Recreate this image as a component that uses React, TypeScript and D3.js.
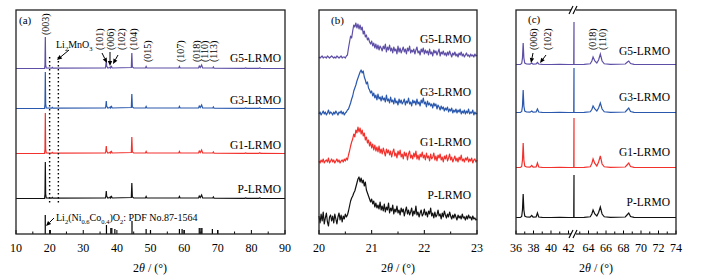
import React from "react";
import * as d3 from "d3";

// ---------- data ----------
const seriesNames = ["G5-LRMO", "G3-LRMO", "G1-LRMO", "P-LRMO"];
const seriesColors = ["#5e4ea6", "#2a58ad", "#f2312c", "#111111"];

// panel (a) wide-range patterns: [2θ, intensity]
const aG5: [number, number][] = [[10,0.5],[18.5,0.6],[18.62,4],[18.72,32],[18.82,4],[19,1],[20.6,0.8],[20.8,1.6],[21,0.8],[36.6,1],[36.72,4],[36.85,9],[36.96,3],[37.3,1],[37.9,1.5],[38.0,2],[38.1,1],[38.4,2.5],[38.6,1],[44.3,1.5],[44.45,16],[44.6,2],[45,1],[48.5,1],[48.7,2.5],[48.9,1],[58.4,1],[58.6,2.5],[58.8,1],[64.3,1],[64.5,3],[64.8,1.5],[65.2,4],[65.5,1],[68.5,1],[68.7,2],[68.9,0.8],[78,0.6],[78.3,1],[78.6,0.6],[82.2,0.6],[82.5,1],[82.8,0.6],[90,0.5]];
const aG3: [number, number][] = [[10,0.5],[18.5,0.6],[18.62,5],[18.72,37],[18.82,5],[19,1],[20.6,0.8],[20.8,1.6],[21,0.8],[36.6,1],[36.72,3],[36.85,8],[36.96,3],[37.3,1],[37.9,1.5],[38.0,2],[38.1,1],[38.4,2.5],[38.6,1],[44.3,1.5],[44.45,15],[44.6,2],[45,1],[48.5,1],[48.7,2.5],[48.9,1],[58.4,1],[58.6,2.5],[58.8,1],[64.3,1],[64.5,3],[64.8,1.5],[65.2,4],[65.5,1],[68.5,1],[68.7,2],[68.9,0.8],[78,0.6],[78.3,1],[78.6,0.6],[82.2,0.6],[82.5,1],[82.8,0.6],[90,0.5]];
const aG1: [number, number][] = [[10,0.5],[18.5,0.6],[18.62,5],[18.72,41],[18.82,5],[19,1],[20.6,0.8],[20.8,1.6],[21,0.8],[36.6,1],[36.72,3],[36.85,8],[36.96,3],[37.3,1],[37.9,1.5],[38.0,2],[38.1,1],[38.4,2.5],[38.6,1],[44.3,1.5],[44.45,17],[44.6,2],[45,1],[48.5,1],[48.7,2.5],[48.9,1],[58.4,1],[58.6,2.5],[58.8,1],[64.3,1],[64.5,3],[64.8,1.5],[65.2,4],[65.5,1],[68.5,1],[68.7,2],[68.9,0.8],[78,0.6],[78.3,1],[78.6,0.6],[82.2,0.6],[82.5,1.2],[82.8,0.6],[90,0.5]];
const aP: [number, number][] = [[10,0.5],[18.5,0.6],[18.62,5],[18.72,37],[18.82,5],[19,1],[20.6,0.8],[20.8,1.6],[21,0.8],[36.6,1],[36.72,3],[36.85,8],[36.96,3],[37.3,1],[37.9,1.5],[38.0,2],[38.1,1],[38.4,2.5],[38.6,1],[44.3,1.5],[44.45,16],[44.6,2],[45,1],[48.5,1],[48.7,2.5],[48.9,1],[58.4,1],[58.6,2.5],[58.8,1],[64.3,1],[64.5,3],[64.8,1.5],[65.2,4],[65.5,1],[68.5,1],[68.7,2],[68.9,0.8],[78,0.6],[78.3,1],[78.6,0.6],[82.2,0.6],[82.5,1],[82.8,0.6],[90,0.5]];
const aData = [aG5, aG3, aG1, aP];
const aOffsets = [165, 125, 80, 35];

// PDF No.87-1564 reference sticks: [2θ, height]
const pdfSticks: [number, number][] = [[18.7,19],[20.2,4],[36.9,9],[38.2,6],[38.5,6],[39.4,5],[44.5,13],[48.7,5],[50.0,4],[58.6,5],[59.4,5],[60.0,4],[64.5,6],[65.0,6],[65.3,6],[68.4,5],[70.0,4]];

// panel (b) zoomed region 20–23° (step 0.02°), intensity above baseline
const bG5 = [
  1,0,1,2,0,1,1,0,2,1, 0,1,2,1,0,1,0,2,1,0, 1,2,0,1,1,0,2,3,10,16,
  22,20,27,33,31,35,30,34,29,33, 28,31,24,27,21,23,18,20,16,14, 17,12,15,10,14,9,13,8,12,10,
  7,12,9,14,6,11,8,13,7,10, 5,11,7,9,4,12,6,10,5,8, 11,6,9,4,10,7,12,5,8,6,
  9,4,8,11,5,7,3,9,6,10, 4,8,5,7,3,9,4,6,2,8, 5,7,3,6,9,2,6,4,7,3,
  5,2,6,3,7,4,1,5,3,6, 2,4,1,5,3,6,2,4,1,3, 5,2,3,1,4,2,3,1,4,2,3];
const bG3 = [
  1,3,0,2,4,1,3,0,2,5, 1,3,2,0,3,1,4,2,0,3, 2,4,1,3,0,2,3,5,6,9,
  12,16,19,24,27,30,34,37,40,43, 45,42,44,38,35,31,33,27,25,22, 24,19,22,17,20,15,21,16,18,14,
  19,15,17,13,20,14,16,12,18,13, 15,11,17,12,14,10,16,12,15,11, 13,16,10,14,12,17,11,13,9,15,
  12,14,10,16,11,13,9,15,12,17, 11,13,8,14,10,12,9,11,7,12, 9,11,6,10,8,5,9,6,8,4,
  7,5,8,3,6,4,7,2,5,3, 6,2,5,3,6,1,4,2,5,1, 4,2,6,1,3,2,5,0,3,1,2];
const bG1 = [
  2,0,3,1,4,0,2,3,1,5, 0,2,4,1,3,0,2,4,1,3, 0,2,3,1,4,2,5,3,8,12,
  17,21,24,29,26,33,30,36,31,35, 29,33,27,30,23,26,20,23,17,21, 15,19,13,18,12,16,11,17,10,14,
  9,15,11,7,14,10,13,8,12,6, 11,14,7,10,5,12,8,13,6,9, 4,11,7,10,3,9,12,5,8,4,
  10,6,12,4,8,3,9,6,11,5, 8,3,10,5,7,2,9,4,6,10, 3,7,2,8,5,9,3,6,1,7,
  4,8,2,5,9,3,6,1,4,7, 2,5,1,6,3,8,2,4,1,5, 3,6,1,4,2,5,0,3,4,1,3];
const bP = [
  4,-3,6,-1,8,-4,2,7,-2,-6, 3,5,-1,4,-3,6,1,-4,3,7, 0,5,-2,4,1,6,3,5,9,14,
  19,22,24,27,29,33,37,41,43,38, 42,37,40,34,38,30,27,24,21,18, 21,16,19,13,17,12,15,11,18,10,
  14,9,16,8,13,10,17,7,12,9, 15,6,11,8,14,7,10,5,12,8, 11,4,9,13,6,10,5,8,12,4,
  9,6,14,5,8,3,7,10,4,6, 11,5,8,3,9,6,12,4,7,2, 8,3,5,10,4,6,1,7,3,9,
  5,2,6,3,8,4,1,5,2,6, 3,0,5,2,4,1,6,2,3,0, 4,1,5,2,3,0,4,1,2,0,1];
const bData = [bG5, bG3, bG1, bP];
const bOffsets = [176, 119, 71, 14];
const bAngles = d3.range(0, 151).map((i) => 20 + i * 0.02);

// panel (c) broken-axis view: [2θ, intensity]; the (104) line sits at the break
const cG5: [number, number][] = [[36,0.5],[36.5,0.6],[36.65,1.5],[36.74,7],[36.82,22],[36.9,7],[37.0,2],[37.2,1],[37.6,0.8],[37.8,2],[37.95,0.8],[38.3,1],[38.45,2.5],[38.6,1],[39,0.6],[40,0.5],[41,0.6],[42,0.5],[42.6,0.5],[42.63,43],[62.34,0.5],[63.5,0.6],[64.2,1.2],[64.38,4],[64.52,8],[64.72,4],[64.95,2],[65.15,5],[65.35,11],[65.55,4],[65.8,1.2],[66.5,0.6],[68.2,1],[68.45,3],[68.6,4],[68.8,1.5],[69.2,0.6],[74,0.5]];
const cG3: [number, number][] = [[36,0.5],[36.5,0.6],[36.65,1.5],[36.74,7],[36.82,23],[36.9,7],[37.0,2],[37.2,1],[37.6,0.8],[37.8,2],[37.95,0.8],[38.3,1],[38.45,4],[38.6,1],[39,0.6],[40,0.5],[41,0.6],[42,0.5],[42.6,0.5],[42.63,45],[62.34,0.5],[63.5,0.6],[64.2,1.2],[64.38,3.5],[64.52,7],[64.72,4],[64.95,2],[65.15,5],[65.35,10],[65.55,4],[65.8,1.2],[66.5,0.6],[68.2,1],[68.45,3.5],[68.6,5],[68.8,1.5],[69.2,0.6],[74,0.5]];
const cG1: [number, number][] = [[36,0.5],[36.5,0.6],[36.65,1.5],[36.74,8],[36.82,25],[36.9,8],[37.0,2],[37.2,1],[37.6,0.8],[37.8,2.5],[37.95,0.8],[38.3,1],[38.45,5],[38.6,1],[39,0.6],[40,0.5],[41,0.6],[42,0.5],[42.6,0.5],[42.63,50],[62.34,0.5],[63.5,0.6],[64.2,1.2],[64.38,4.5],[64.52,9],[64.72,4.5],[64.95,2],[65.15,6],[65.35,12],[65.55,4],[65.8,1.2],[66.5,0.6],[68.2,1],[68.45,3.5],[68.6,5],[68.8,1.5],[69.2,0.6],[74,0.5]];
const cP: [number, number][] = [[36,0.5],[36.5,0.6],[36.65,1.5],[36.74,8],[36.82,24],[36.9,8],[37.0,2],[37.2,1],[37.6,0.8],[37.8,2.5],[37.95,0.8],[38.3,1],[38.45,5],[38.6,1],[39,0.6],[40,0.5],[41,0.6],[42,0.5],[42.6,0.5],[42.63,43],[62.34,0.5],[63.5,0.6],[64.2,1.2],[64.38,4],[64.52,8],[64.72,4],[64.95,2],[65.15,5.5],[65.35,11],[65.55,4],[65.8,1.2],[66.5,0.6],[68.2,1],[68.45,3.5],[68.6,5],[68.8,1.5],[69.2,0.6],[74,0.5]];
const cData = [cG5, cG3, cG1, cP];
const cOffsets = [169, 121, 66, 16];

// tick labels
const aTicks = [10, 20, 30, 40, 50, 60, 70, 80, 90];
const bTicks = [20, 21, 22, 23];
const cTicksLeft = [36, 38, 40, 42];
const cTicksRight = [64, 66, 68, 70, 72, 74];

// peak labels
const aPeakLabels: [string, number, number][] = [["(003)",45,35],["(101)",99,50],["(006)",110,50],["(102)",121,50],["(104)",133,50],["(015)",147,62],["(107)",180,62],["(018)",196,62],["(110)",204,62],["(113)",213,62]];
const cPeakLabels: [string, number, number][] = [["(006)",533,50],["(102)",547,50],["(018)",592,50],["(110)",602,50]];

// ---------- layout ----------
const FONT = "'Liberation Serif', 'Times New Roman', serif";
const yS = d3.scaleLinear().domain([0, 224]).range([234, 10]);
const xA = d3.scaleLinear().domain([10, 90]).range([16, 285]);
const xB = d3.scaleLinear().domain([20, 23]).range([319, 477]);
const xC = d3.scaleLinear().domain([36, 42.63, 62.34, 74]).range([516, 574, 574, 676]);

function Title({ x }: { x: number }) {
  return (
    <text x={x} y={272} textAnchor="middle" fontSize={12} fontFamily={FONT}>
      2<tspan fontStyle="italic">θ</tspan> / (°)
    </text>
  );
}

function Arrow({ x1, y1, x2, y2 }: { x1: number; y1: number; x2: number; y2: number }) {
  const ang = Math.atan2(y2 - y1, x2 - x1);
  const L = 5, W = 2.2;
  const bx = x2 - L * Math.cos(ang), by = y2 - L * Math.sin(ang);
  const px = -Math.sin(ang) * W, py = Math.cos(ang) * W;
  return (
    <g>
      <line x1={x1} y1={y1} x2={bx} y2={by} stroke="#000" strokeWidth={1} />
      <path d={`M${x2},${y2}L${bx + px},${by + py}L${bx - px},${by - py}Z`} fill="#000" />
    </g>
  );
}

function RotLabel({ t, cx, by }: { t: string; cx: number; by: number }) {
  return (
    <text transform={`translate(${cx + 3.5},${by}) rotate(-90)`} fontSize={10} fontFamily={FONT}>
      {t}
    </text>
  );
}

export default function App() {
  const lineA = (off: number) =>
    d3.line<[number, number]>().x((d) => xA(d[0])).y((d) => yS(d[1] + off));
  const lineC = (off: number) =>
    d3.line<[number, number]>().x((d) => xC(d[0])).y((d) => yS(d[1] + off));
  const lineB = (off: number) =>
    d3.line<number>().x((_, i) => xB(bAngles[i])).y((d) => yS(d + off));

  const aMinor = d3.range(10, 91, 5);
  const bMinor = d3.range(20, 23.01, 0.5);
  const cMinorL = d3.range(36, 43, 1);
  const cMinorR = d3.range(63, 75, 1);

  return (
    <svg width={720} height={276} style={{ position: "absolute", left: 0, top: 0, background: "#fff" }}>
      <rect x={0} y={0} width={720} height={276} fill="#fff" />
      {/* ---------- panel (a) ---------- */}
      <g>
        {aData.map((d, i) => (
          <path key={i} d={lineA(aOffsets[i])(d) || ""} fill="none" stroke={seriesColors[i]} strokeWidth={1.2} />
        ))}
        {pdfSticks.map(([x, h], i) => (
          <line key={i} x1={xA(x)} x2={xA(x)} y1={yS(0)} y2={yS(h)} stroke="#000" strokeWidth={1.2} />
        ))}
        {[20, 22.6].map((x, i) => (
          <line key={i} x1={xA(x)} x2={xA(x)} y1={57} y2={205} stroke="#000" strokeWidth={1.4} strokeDasharray="1.4,2.6" />
        ))}
        {aMinor.map((t, i) => (
          <line key={i} x1={xA(t)} x2={xA(t)} y1={234} y2={t % 10 === 0 ? 230 : 231.5} stroke="#000" strokeWidth={1} />
        ))}
        <rect x={16} y={10} width={269} height={224} fill="none" stroke="#222" strokeWidth={1.3} />
        {aTicks.map((t) => (
          <text key={t} x={xA(t)} y={252} textAnchor="middle" fontSize={12} fontFamily={FONT}>{t}</text>
        ))}
        <Title x={150} />
        <text x={19} y={24} fontSize={11} fontFamily={FONT}>(a)</text>
        {aPeakLabels.map(([t, cx, by], i) => <RotLabel key={i} t={t} cx={cx} by={by} />)}
        <text x={56} y={48} fontSize={10} fontFamily={FONT}>
          Li<tspan fontSize={6.5} dy={2.5}>2</tspan><tspan dy={-2.5}>MnO</tspan><tspan fontSize={6.5} dy={2.5}>3</tspan>
        </text>
        <Arrow x1={69} y1={50} x2={57} y2={60} />
        <Arrow x1={102} y1={53} x2={107} y2={63} />
        <Arrow x1={110} y1={52} x2={110} y2={66} />
        <Arrow x1={118} y1={55} x2={113} y2={64} />
        <text x={56} y={221} fontSize={10} fontFamily={FONT}>
          Li<tspan fontSize={6.5} dy={2.5}>2</tspan><tspan dy={-2.5}>(Ni</tspan><tspan fontSize={6.5} dy={2.5}>0.6</tspan><tspan dy={-2.5}>Co</tspan><tspan fontSize={6.5} dy={2.5}>0.4</tspan><tspan dy={-2.5}>)O</tspan><tspan fontSize={6.5} dy={2.5}>2</tspan><tspan dy={-2.5}>: PDF No.87-1564</tspan>
        </text>
        <Arrow x1={54} y1={218} x2={46} y2={226} />
        {seriesNames.map((n, i) => (
          <text key={n} x={281} y={[62, 104, 149, 193][i]} textAnchor="end" fontSize={11.5} fontFamily={FONT}>{n}</text>
        ))}
      </g>

      {/* ---------- panel (b) ---------- */}
      <g>
        {bData.map((d, i) => (
          <path key={i} d={lineB(bOffsets[i])(d) || ""} fill="none" stroke={seriesColors[i]} strokeWidth={1.2} strokeLinejoin="round" />
        ))}
        {bMinor.map((t, i) => (
          <line key={i} x1={xB(t)} x2={xB(t)} y1={234} y2={i % 2 === 0 ? 230 : 231.5} stroke="#000" strokeWidth={1} />
        ))}
        <rect x={319} y={10} width={158} height={224} fill="none" stroke="#222" strokeWidth={1.3} />
        {bTicks.map((t) => (
          <text key={t} x={xB(t)} y={252} textAnchor="middle" fontSize={12} fontFamily={FONT}>{t}</text>
        ))}
        <Title x={398} />
        <text x={331} y={24} fontSize={11} fontFamily={FONT}>(b)</text>
        {seriesNames.map((n, i) => (
          <text key={n} x={471} y={[43, 96, 146, 199][i]} textAnchor="end" fontSize={11.5} fontFamily={FONT}>{n}</text>
        ))}
      </g>

      {/* ---------- panel (c) ---------- */}
      <g>
        {cData.map((d, i) => (
          <path key={i} d={lineC(cOffsets[i])(d) || ""} fill="none" stroke={seriesColors[i]} strokeWidth={1.2} />
        ))}
        {[...cMinorL, ...cMinorR].map((t, i) => (
          <line key={i} x1={xC(t)} x2={xC(t)} y1={234} y2={t % 2 === 0 ? 230.5 : 231.5} stroke="#000" strokeWidth={1} />
        ))}
        <rect x={516} y={10} width={160} height={224} fill="none" stroke="#222" strokeWidth={1.3} />
        {[10, 234].map((yy, i) => (
          <g key={i}>
            <rect x={571} y={yy - 2} width={5} height={4} fill="#fff" />
            <line x1={569} y1={yy + 4} x2={573} y2={yy - 4} stroke="#000" strokeWidth={1.1} />
            <line x1={573} y1={yy + 4} x2={577} y2={yy - 4} stroke="#000" strokeWidth={1.1} />
          </g>
        ))}
        {[...cTicksLeft, ...cTicksRight].map((t) => (
          <text key={t} x={xC(t)} y={252} textAnchor="middle" fontSize={12} fontFamily={FONT}>{t}</text>
        ))}
        <Title x={596} />
        <text x={528} y={23} fontSize={11} fontFamily={FONT}>(c)</text>
        {cPeakLabels.map(([t, cx, by], i) => <RotLabel key={i} t={t} cx={cx} by={by} />)}
        <Arrow x1={533} y1={53} x2={531} y2={63} />
        <Arrow x1={546} y1={55} x2={540} y2={63} />
        {seriesNames.map((n, i) => (
          <text key={n} x={670} y={[55, 101, 156, 206][i]} textAnchor="end" fontSize={11.5} fontFamily={FONT}>{n}</text>
        ))}
      </g>
    </svg>
  );
}
